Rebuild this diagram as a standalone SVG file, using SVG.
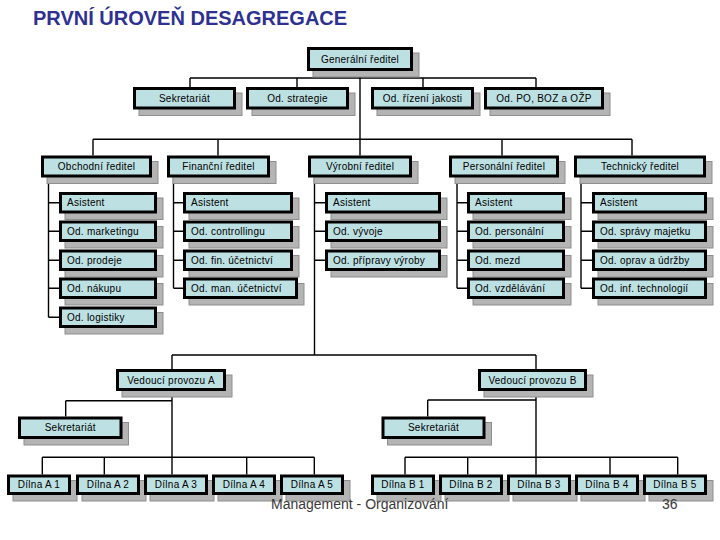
<svg xmlns="http://www.w3.org/2000/svg" width="720" height="540" viewBox="0 0 720 540">
<style>
.sh{fill:#b4b4b4;stroke:#8e8e8e;stroke-width:1}
.bx{fill:#bde0e3;stroke:#000;stroke-width:3}
.t{font-family:"Liberation Sans",Arial,sans-serif;font-size:10px;letter-spacing:0.25px;fill:#000}
.c{text-anchor:middle}
.cn{fill:none;stroke:#000;stroke-width:1.4}
.title{font-family:"Liberation Sans",Arial,sans-serif;font-size:20px;font-weight:bold;fill:#2e3192}
.foot{font-family:"Liberation Sans",Arial,sans-serif;font-size:14px;fill:#3a3a3a}
</style>
<rect width="720" height="540" fill="#fff"/>
<text class="title" x="33" y="25">PRVNÍ ÚROVEŇ DESAGREGACE</text>

<g id="connectors" class="cn">
<path d="M360 71V139.3M190 78H536M190 78V87M297 78V87M423 78V87M536 78V87"/>
<path d="M93 139.3H632M93 139.3V155.5M218 139.3V155.5M360 139.3V155.5M502 139.3V155.5M632 139.3V155.5"/>
<path d="M48.5 177.5V317.25M48.5 202.75H59M48.5 231.25H59M48.5 260.25H59M48.5 288.25H59M48.5 317.25H59"/>
<path d="M173.5 177.5V288.25M173.5 202.75H183M173.5 231.25H183M173.5 260.25H183M173.5 288.25H183"/>
<path d="M314.5 177.5V355M314.5 202.75H325M314.5 231.25H325M314.5 260.25H325"/>
<path d="M457 177.5V288.25M457 202.75H467M457 231.25H467M457 260.25H467M457 288.25H467"/>
<path d="M581 177.5V288.25M581 202.75H592M581 231.25H592M581 260.25H592M581 288.25H592"/>
<path d="M172 355H536M172 355V369M536 355V369"/>
<path d="M172 391V457.3M65.7 400.7H172M65.7 400.7V416.5M42.3 457.3H314.3M42.3 457.3V474.5M104.3 457.3V474.5M172 457.3V474.5M246.7 457.3V474.5M314.3 457.3V474.5"/>
<path d="M536 391V457.3M427.7 400H536M427.7 400V416.5M405 457.3H677.7M405 457.3V474.5M467.7 457.3V474.5M536 457.3V474.5M610 457.3V474.5M677.7 457.3V474.5"/>
</g>

<g id="gen"><rect class="sh" x="313" y="53" width="106" height="24"/><rect class="bx" x="308.5" y="48.5" width="103" height="21"/><text class="t c" x="360" y="62.5">Generální ředitel</text></g>
<g id="sekretariat"><rect class="sh" x="139" y="93" width="103" height="22.5"/><rect class="bx" x="134.5" y="88.5" width="100" height="19.5"/><text class="t c" x="184.5" y="101.8">Sekretariát</text></g>
<g id="strategie"><rect class="sh" x="252" y="93" width="103" height="22.5"/><rect class="bx" x="247.5" y="88.5" width="100" height="19.5"/><text class="t c" x="297.5" y="101.8">Od. strategie</text></g>
<g id="jakost"><rect class="sh" x="377" y="93" width="103" height="22.5"/><rect class="bx" x="372.5" y="88.5" width="100" height="19.5"/><text class="t c" x="422.5" y="101.8">Od. řízení jakosti</text></g>
<g id="po"><rect class="sh" x="490" y="93" width="120" height="22.5"/><rect class="bx" x="485.5" y="88.5" width="117" height="19.5"/><text class="t c" x="544" y="101.8">Od. PO, BOZ a OŽP</text></g>

<g id="obch"><rect class="sh" x="47" y="161.5" width="111" height="22"/><rect class="bx" x="42.5" y="157" width="108" height="19"/><text class="t c" x="96.5" y="170">Obchodní ředitel</text></g>
<g id="fin"><rect class="sh" x="173" y="161.5" width="103" height="22"/><rect class="bx" x="168.5" y="157" width="100" height="19"/><text class="t c" x="218.5" y="170">Finanční ředitel</text></g>
<g id="vyr"><rect class="sh" x="314" y="161.5" width="104" height="22"/><rect class="bx" x="309.5" y="157" width="101" height="19"/><text class="t c" x="360" y="170">Výrobní ředitel</text></g>
<g id="pers"><rect class="sh" x="455" y="161.5" width="110" height="22"/><rect class="bx" x="450.5" y="157" width="107" height="19"/><text class="t c" x="504" y="170">Personální ředitel</text></g>
<g id="tech"><rect class="sh" x="580" y="161.5" width="132" height="22"/><rect class="bx" x="575.5" y="157" width="129" height="19"/><text class="t c" x="640" y="170">Technický ředitel</text></g>

<g id="obch1"><rect class="sh" x="65" y="198" width="98" height="21.5"/><rect class="bx" x="60.5" y="193.5" width="95" height="18.5"/><text class="t" x="67" y="206.25">Asistent</text></g>
<g id="obch2"><rect class="sh" x="65" y="226.5" width="98" height="21.5"/><rect class="bx" x="60.5" y="222" width="95" height="18.5"/><text class="t" x="67" y="234.75">Od. marketingu</text></g>
<g id="obch3"><rect class="sh" x="65" y="255.5" width="98" height="21.5"/><rect class="bx" x="60.5" y="251" width="95" height="18.5"/><text class="t" x="67" y="263.75">Od. prodeje</text></g>
<g id="obch4"><rect class="sh" x="65" y="283.5" width="98" height="21.5"/><rect class="bx" x="60.5" y="279" width="95" height="18.5"/><text class="t" x="67" y="291.75">Od. nákupu</text></g>
<g id="obch5"><rect class="sh" x="65" y="312.5" width="98" height="21.5"/><rect class="bx" x="60.5" y="308" width="95" height="18.5"/><text class="t" x="67" y="320.75">Od. logistiky</text></g>

<g id="fin1"><rect class="sh" x="189" y="198" width="110" height="21.5"/><rect class="bx" x="184.5" y="193.5" width="107" height="18.5"/><text class="t" x="191" y="206.25">Asistent</text></g>
<g id="fin2"><rect class="sh" x="189" y="226.5" width="110" height="21.5"/><rect class="bx" x="184.5" y="222" width="107" height="18.5"/><text class="t" x="191" y="234.75">Od. controllingu</text></g>
<g id="fin3"><rect class="sh" x="189" y="255.5" width="110" height="21.5"/><rect class="bx" x="184.5" y="251" width="107" height="18.5"/><text class="t" x="191" y="263.75">Od. fin. účetnictví</text></g>
<g id="fin4"><rect class="sh" x="189" y="283.5" width="115" height="21.5"/><rect class="bx" x="184.5" y="279" width="112" height="18.5"/><text class="t" x="191" y="291.75">Od. man. účetnictví</text></g>

<g id="vyr1"><rect class="sh" x="331" y="198" width="116" height="21.5"/><rect class="bx" x="326.5" y="193.5" width="113" height="18.5"/><text class="t" x="333" y="206.25">Asistent</text></g>
<g id="vyr2"><rect class="sh" x="331" y="226.5" width="116" height="21.5"/><rect class="bx" x="326.5" y="222" width="113" height="18.5"/><text class="t" x="333" y="234.75">Od. vývoje</text></g>
<g id="vyr3"><rect class="sh" x="331" y="255.5" width="116" height="21.5"/><rect class="bx" x="326.5" y="251" width="113" height="18.5"/><text class="t" x="333" y="263.75">Od. přípravy výroby</text></g>

<g id="pers1"><rect class="sh" x="473" y="198" width="98" height="21.5"/><rect class="bx" x="468.5" y="193.5" width="95" height="18.5"/><text class="t" x="475" y="206.25">Asistent</text></g>
<g id="pers2"><rect class="sh" x="473" y="226.5" width="98" height="21.5"/><rect class="bx" x="468.5" y="222" width="95" height="18.5"/><text class="t" x="475" y="234.75">Od. personální</text></g>
<g id="pers3"><rect class="sh" x="473" y="255.5" width="98" height="21.5"/><rect class="bx" x="468.5" y="251" width="95" height="18.5"/><text class="t" x="475" y="263.75">Od. mezd</text></g>
<g id="pers4"><rect class="sh" x="473" y="283.5" width="98" height="21.5"/><rect class="bx" x="468.5" y="279" width="95" height="18.5"/><text class="t" x="475" y="291.75">Od. vzdělávání</text></g>

<g id="tech1"><rect class="sh" x="598" y="198" width="115" height="21.5"/><rect class="bx" x="593.5" y="193.5" width="112" height="18.5"/><text class="t" x="600" y="206.25">Asistent</text></g>
<g id="tech2"><rect class="sh" x="598" y="226.5" width="115" height="21.5"/><rect class="bx" x="593.5" y="222" width="112" height="18.5"/><text class="t" x="600" y="234.75">Od. správy majetku</text></g>
<g id="tech3"><rect class="sh" x="598" y="255.5" width="115" height="21.5"/><rect class="bx" x="593.5" y="251" width="112" height="18.5"/><text class="t" x="600" y="263.75">Od. oprav a údržby</text></g>
<g id="tech4"><rect class="sh" x="598" y="283.5" width="115" height="21.5"/><rect class="bx" x="593.5" y="279" width="112" height="18.5"/><text class="t" x="600" y="291.75">Od. inf. technologií</text></g>

<g id="vedA"><rect class="sh" x="122" y="375" width="110" height="22"/><rect class="bx" x="117.5" y="370.5" width="107" height="19"/><text class="t c" x="171" y="383.5">Vedoucí provozu A</text></g>
<g id="vedB"><rect class="sh" x="484" y="375" width="109" height="22"/><rect class="bx" x="479.5" y="370.5" width="106" height="19"/><text class="t c" x="532.5" y="383.5">Vedoucí provozu B</text></g>
<g id="sekrA"><rect class="sh" x="24" y="422.5" width="104.5" height="22.5"/><rect class="bx" x="19.5" y="418" width="101.5" height="19.5"/><text class="t c" x="70.25" y="431.25">Sekretariát</text></g>
<g id="sekrB"><rect class="sh" x="387.5" y="422.5" width="104" height="22.5"/><rect class="bx" x="383" y="418" width="101" height="19.5"/><text class="t c" x="433.5" y="431.25">Sekretariát</text></g>

<g id="A1"><rect class="sh" x="13" y="480.5" width="64" height="20.5"/><rect class="bx" x="8.5" y="476" width="61" height="17.5"/><text class="t c" x="39" y="488.25">Dílna A 1</text></g>
<g id="A2"><rect class="sh" x="82" y="480.5" width="64" height="20.5"/><rect class="bx" x="77.5" y="476" width="61" height="17.5"/><text class="t c" x="108" y="488.25">Dílna A 2</text></g>
<g id="A3"><rect class="sh" x="150" y="480.5" width="64" height="20.5"/><rect class="bx" x="145.5" y="476" width="61" height="17.5"/><text class="t c" x="176" y="488.25">Dílna A 3</text></g>
<g id="A4"><rect class="sh" x="218" y="480.5" width="64" height="20.5"/><rect class="bx" x="213.5" y="476" width="61" height="17.5"/><text class="t c" x="244" y="488.25">Dílna A 4</text></g>
<g id="A5"><rect class="sh" x="286" y="480.5" width="64" height="20.5"/><rect class="bx" x="281.5" y="476" width="61" height="17.5"/><text class="t c" x="312" y="488.25">Dílna A 5</text></g>
<g id="B1"><rect class="sh" x="377" y="480.5" width="64" height="20.5"/><rect class="bx" x="372.5" y="476" width="61" height="17.5"/><text class="t c" x="403" y="488.25">Dílna B 1</text></g>
<g id="B2"><rect class="sh" x="445" y="480.5" width="64" height="20.5"/><rect class="bx" x="440.5" y="476" width="61" height="17.5"/><text class="t c" x="471" y="488.25">Dílna B 2</text></g>
<g id="B3"><rect class="sh" x="513" y="480.5" width="64" height="20.5"/><rect class="bx" x="508.5" y="476" width="61" height="17.5"/><text class="t c" x="539" y="488.25">Dílna B 3</text></g>
<g id="B4"><rect class="sh" x="581" y="480.5" width="64" height="20.5"/><rect class="bx" x="576.5" y="476" width="61" height="17.5"/><text class="t c" x="607" y="488.25">Dílna B 4</text></g>
<g id="B5"><rect class="sh" x="649" y="480.5" width="64" height="20.5"/><rect class="bx" x="644.5" y="476" width="61" height="17.5"/><text class="t c" x="675" y="488.25">Dílna B 5</text></g>

<text class="foot" x="271" y="509">Management - Organizování</text>
<text class="foot" x="662" y="509">36</text>
</svg>
